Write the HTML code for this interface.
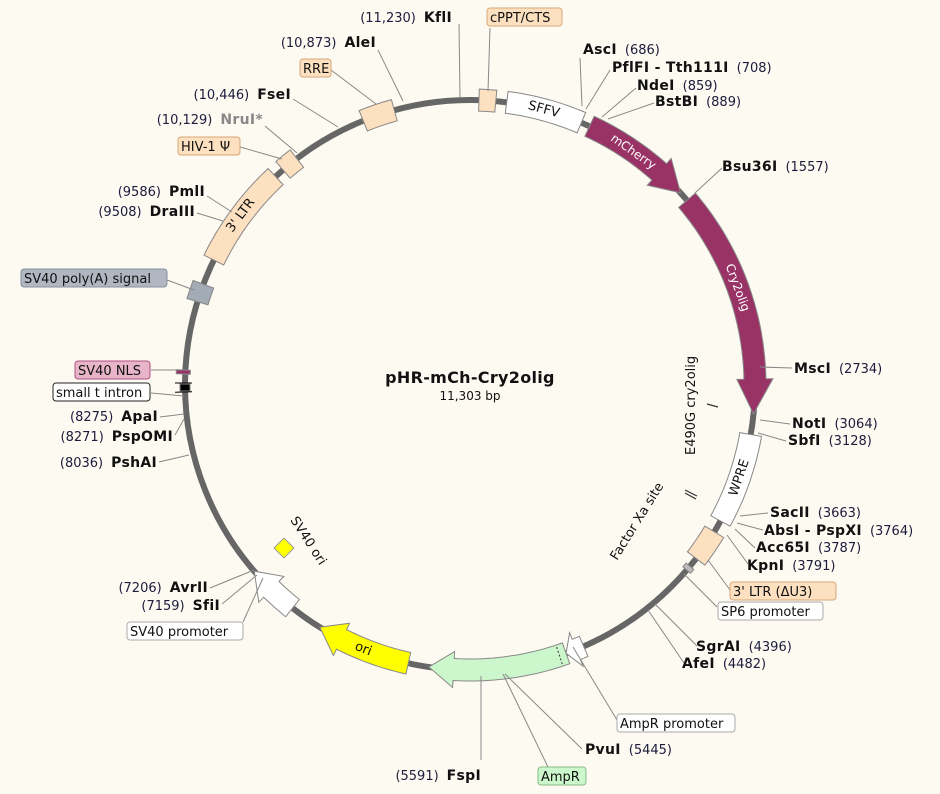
<!DOCTYPE html>
<html><head><meta charset="utf-8">
<style>
html,body{margin:0;padding:0;background:#fdfaf2;}
svg{display:block;}
text{font-family:"DejaVu Sans","Liberation Sans",sans-serif;font-size:13px;fill:#111;}
.n{fill:#1c1c3c;}
.b{font-weight:bold;font-size:14px;letter-spacing:0.3px;}
</style></head><body>
<svg id="s" xmlns="http://www.w3.org/2000/svg" width="940" height="794" viewBox="0 0 940 794">
<rect width="940" height="794" fill="#fdfaf2"/>
<circle cx="470" cy="385" r="285" fill="none" stroke="#666" stroke-width="6"/>
<g id="f"></g>
<g id="l" stroke="#888" stroke-width="1" fill="none"></g>
<g id="t">
<text x="470" y="383" text-anchor="middle" class="b" style="font-size:16px">pHR-mCh-Cry2olig</text>
<text x="470" y="400" text-anchor="middle" style="font-size:12px">11,303 bp</text>
<text transform="translate(695,455) rotate(-90)" style="font-size:13px">E490G cry2olig</text>
<line x1="707" y1="404" x2="718" y2="407" stroke="#333" stroke-width="1.2"/>
<line x1="685" y1="490" x2="697" y2="496" stroke="#333" stroke-width="1.2"/>
<line x1="685" y1="493" x2="696" y2="499" stroke="#333" stroke-width="1.2"/>
<text transform="translate(617,561) rotate(-58)" style="font-size:13px">Factor Xa site</text>
<rect x="277" y="541" width="14" height="14" fill="#ffff00" stroke="#999" transform="rotate(45 284 548)"/>
<text transform="translate(290,520) rotate(57)" style="font-size:13px">SV40 ori</text>
</g>
</svg>
<script>
var cx=470,cy=385,NS="http://www.w3.org/2000/svg";
function P(a,r){var t=a*Math.PI/180;return [cx+r*Math.sin(t),cy-r*Math.cos(t)];}
function pts(a1,a2,r){var o=[],n=Math.max(2,Math.ceil(Math.abs(a2-a1)));for(var i=0;i<=n;i++){o.push(P(a1+(a2-a1)*i/n,r));}return o;}
function el(tag,at,par){var e=document.createElementNS(NS,tag);for(var k in at)e.setAttribute(k,at[k]);document.getElementById(par).appendChild(e);return e;}
function poly(p,fill,stroke){el("polygon",{points:p.map(function(q){return q[0].toFixed(1)+","+q[1].toFixed(1)}).join(" "),fill:fill,stroke:stroke||"#888","stroke-width":1},"f");}
var R1=274,R2=296;
function box(a1,a2,fill,r1,r2){r1=r1||R1;r2=r2||R2;poly(pts(a1,a2,r2).concat(pts(a2,a1,r1)),fill);}
function arrow(a1,a2,fill,h){var e=a2-h;var p=pts(a1,e,R2);p.push(P(e,R2+7));p.push(P(a2,(R1+R2)/2));p.push(P(e,R1-7));p=p.concat(pts(e,a1,R1));poly(p,fill);}
function ftext(a,r,s,rot,col,fs){var q=P(a,r);el("text",{x:q[0],y:q[1],"text-anchor":"middle","dominant-baseline":"central",transform:"rotate("+rot+" "+q[0]+" "+q[1]+")",style:"fill:"+col+";font-size:"+(fs||13)+"px"},"t").textContent=s;}
box(1.8,5.2,"#fde0c0");
box(7.4,23,"#ffffff");ftext(15,285,"SFFV",15,"#111");
arrow(24.8,47.6,"#993366",6);ftext(35,285,"mCherry",35,"#fff",12);
arrow(49.6,95.8,"#993366",7);ftext(70,285,"Cry2olig",70,"#fff",12);
box(100,118.5,"#ffffff");ftext(109,285,"WPRE",-71,"#111");
box(121,127.5,"#fde0c0");
box(129.5,130.5,"#bbbbbb",280,290);
arrow(156.5,160.3,"#ffffff",2.2);
arrow(160.3,188.3,"#ccf7cc",5);
el("line",{x1:P(161.7,R1+2)[0],y1:P(161.7,R1+2)[1],x2:P(161.7,R2-2)[0],y2:P(161.7,R2-2)[1],stroke:"#333","stroke-dasharray":"2,2"},"f");
arrow(192.5,211.8,"#ffff00",5);ftext(202,285,"ori",22,"#111");
arrow(218.5,229.2,"#ffffff",5);
box(268.8,270.2,"#000000",280,290);
el("line",{x1:P(268.6,278)[0],y1:P(268.6,278)[1],x2:P(268.6,295)[0],y2:P(268.6,295)[1],stroke:"#000"},"f");
el("line",{x1:P(270.4,278)[0],y1:P(270.4,278)[1],x2:P(270.4,295)[0],y2:P(270.4,295)[1],stroke:"#000"},"f");
box(272.2,273,"#993366",280,294);
box(287,290.7,"#a3abb5");
box(296,317,"#fde0c0");ftext(306.5,285,"3' LTR",-53.5,"#111");
box(319,322.6,"#fde0c0");
box(338,344.6,"#fde0c0");
var L=[[459,24,460,97],[490,28,488,91],[378,50,403,101],[331,70,376,104],[293,99,338,127],[265,126,297,153],[240,147,282,159],
[207,196,232,212],[197,213,223,221],[167,280,194,290],[151,370,182,370],[151,393,184,396],[160,417,184,414],[175,435,184,419],[159,462,189,455],
[210,588,254,570],[222,604,257,575],[243,622,263,578],
[580,58,582,106],[610,70,586,109],[636,88,602,117],[654,103,608,119],[722,168,695,193],[792,368,760,367],[790,424,760,420],[786,441,758,433],
[768,513,740,516],[763,530,737,523],[755,548,735,529],[748,564,727,535],[730,590,708,560],[717,607,684,574],[697,646,655,604],[684,663,648,610],
[617,720,573,647],[582,749,505,674],[548,767,503,674],[481,760,481,676]];
L.forEach(function(a){el("line",{x1:a[0],y1:a[1],x2:a[2],y2:a[3]},"l");});
function sp(t,s,c,dx,st){var e=document.createElementNS(NS,"tspan");if(c)e.setAttribute("class",c);if(dx)e.setAttribute("dx",dx);if(st)e.setAttribute("style",st);e.textContent=s;t.appendChild(e);}
function labL(xr,y,num,name,grey){var t=el("text",{x:xr,y:y,"text-anchor":"end"},"t");sp(t,num,"n");sp(t,name,"b",8,grey?"fill:#888":null);}
function labR(x,y,num,name){var t=el("text",{x:x,y:y},"t");sp(t,name,"b");sp(t,num,"n",8);}
function tag(x,y,w,s,fill,stroke){el("rect",{x:x,y:y,width:w,height:18,rx:3,fill:fill,stroke:stroke,"stroke-width":1},"t");el("text",{x:x+3,y:y+14},"t").textContent=s;}
labL(452,22,"(11,230)","KflI");
labL(376,47,"(10,873)","AleI");
labL(291,99,"(10,446)","FseI");
labL(263,124,"(10,129)","NruI*",true);
labL(205,196,"(9586)","PmlI");
labL(195,216,"(9508)","DraIII");
labL(158,421,"(8275)","ApaI");
labL(173,441,"(8271)","PspOMI");
labL(157,467,"(8036)","PshAI");
labL(208,592,"(7206)","AvrII");
labL(220,610,"(7159)","SfiI");
labL(481,780,"(5591)","FspI");
labR(583,54,"(686)","AscI");
labR(612,72,"(708)","PflFI - Tth111I");
labR(637,90,"(859)","NdeI");
labR(655,106,"(889)","BstBI");
labR(722,171,"(1557)","Bsu36I");
labR(794,373,"(2734)","MscI");
labR(792,428,"(3064)","NotI");
labR(788,445,"(3128)","SbfI");
labR(770,517,"(3663)","SacII");
labR(764,535,"(3764)","AbsI - PspXI");
labR(756,552,"(3787)","Acc65I");
labR(747,570,"(3791)","KpnI");
labR(696,651,"(4396)","SgrAI");
labR(682,668,"(4482)","AfeI");
labR(585,754,"(5445)","PvuI");
tag(487,8,75,"cPPT/CTS","#fde0c0","#d8a878");
tag(300,59,31,"RRE","#fde0c0","#d8a878");
tag(178,137,62,"HIV-1 Ψ","#fde0c0","#d8a878");
tag(21,269,146,"SV40 poly(A) signal","#b0b7c0","#8890a0");
tag(75,361,75,"SV40 NLS","#e8b4c8","#b05080");
tag(53,383,97,"small t intron","#ffffff","#222");
tag(127,622,116,"SV40 promoter","#ffffff","#aaa");
tag(730,582,106,"3' LTR (ΔU3)","#fde0c0","#d8a878");
tag(718,602,105,"SP6 promoter","#ffffff","#aaa");
tag(617,714,118,"AmpR promoter","#ffffff","#aaa");
tag(538,767,48,"AmpR","#ccf7cc","#88bb88");
</script>
</body></html>
